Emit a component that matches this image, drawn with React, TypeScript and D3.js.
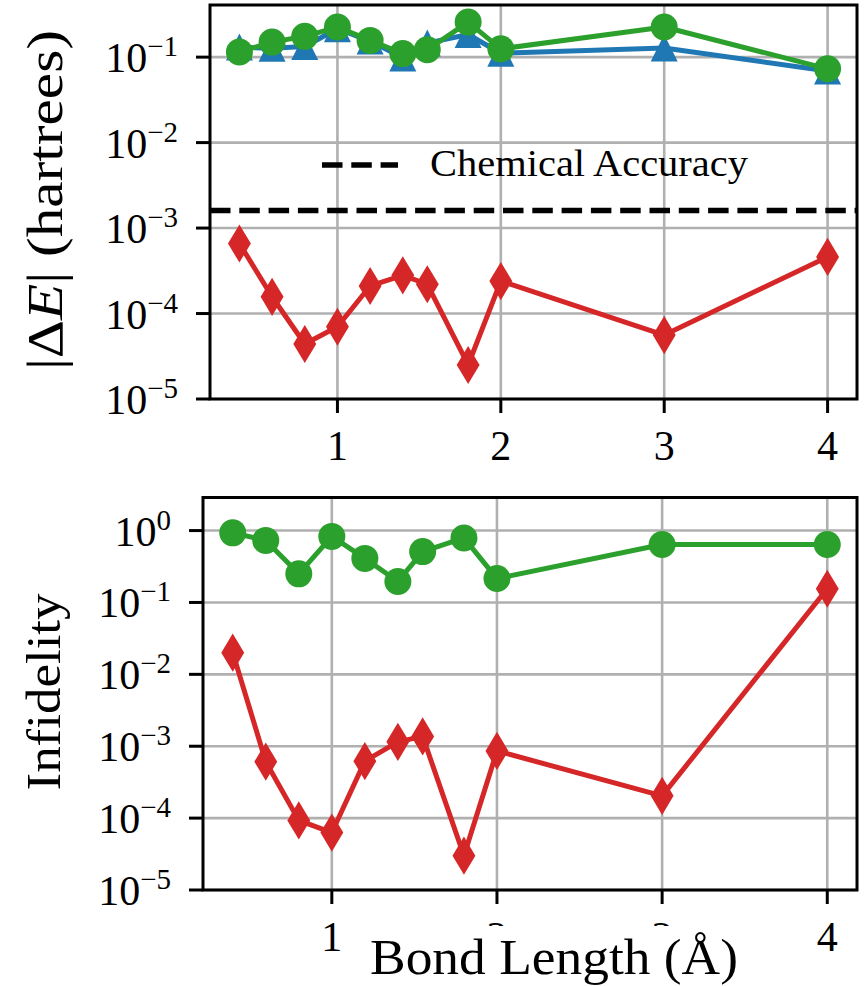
import React, { useRef, useEffect } from "react";
import * as d3 from "d3";

// bond lengths (angstrom) shared by both panels
const bondLengths = [0.4, 0.6, 0.8, 1.0, 1.2, 1.4, 1.55, 1.8, 2.0, 3.0, 4.0];

// |dE| in hartrees
const energyBlue = [0.131, 0.127, 0.133, 0.215, 0.154, 0.098, 0.146, 0.184, 0.111, 0.128, 0.069];
const energyGreen = [0.115, 0.15, 0.175, 0.225, 0.157, 0.11, 0.122, 0.257, 0.125, 0.225, 0.073];
const energyRed = [6.6e-4, 1.57e-4, 4.4e-5, 7.0e-5, 2.1e-4, 2.8e-4, 2.2e-4, 2.5e-5, 2.4e-4, 5.6e-5, 4.6e-4];
const chemicalAccuracy = 1.6e-3;

// infidelity
const infidelityGreen = [0.93, 0.73, 0.25, 0.83, 0.41, 0.196, 0.51, 0.79, 0.215, 0.64, 0.64];
const infidelityRed = [0.02, 6.1e-4, 9.3e-5, 6.3e-5, 6.2e-4, 1.15e-3, 1.37e-3, 3.0e-5, 8.6e-4, 2.04e-4, 0.155];

const xTicks = [1, 2, 3, 4];
const energyExponents = [-1, -2, -3, -4, -5];
const infidelityExponents = [0, -1, -2, -3, -4, -5];

const W = 866;
const H = 986;
const FONT = "'Liberation Serif', 'Times New Roman', serif";
const BLUE = "#1f77b4";
const GREEN = "#2ca02c";
const RED = "#d62728";
const MS = 27; // marker size in px
const LW = 5;

type Marker = "circle" | "triangle" | "thinDiamond";

function markerPath(kind: Marker, s: number): string {
  const h = s / 2;
  const p = d3.path();
  if (kind === "circle") {
    p.arc(0, 0, h, 0, 2 * Math.PI);
  } else if (kind === "triangle") {
    p.moveTo(0, -h);
    p.lineTo(-h, h);
    p.lineTo(h, h);
    p.closePath();
  } else {
    const a = s * Math.SQRT1_2;
    const w = a * 0.6;
    p.moveTo(0, -a);
    p.lineTo(w, 0);
    p.lineTo(0, a);
    p.lineTo(-w, 0);
    p.closePath();
  }
  return p.toString();
}

interface Series {
  values: number[];
  color: string;
  marker: Marker;
}

interface Panel {
  left: number;
  right: number;
  top: number;
  bottom: number;
  yMax: number;
  exponents: number[];
  series: Series[];
}

function drawPanel(svg: d3.Selection<SVGSVGElement, unknown, null, undefined>, panel: Panel) {
  const x = d3.scaleLinear().domain([0.22, 4.18]).range([panel.left, panel.right]);
  const y = d3.scaleLog().domain([1e-5, panel.yMax]).range([panel.bottom, panel.top]);
  const g = svg.append("g");

  // grid
  g.selectAll("line.gx")
    .data(xTicks)
    .enter()
    .append("line")
    .attr("x1", d => x(d))
    .attr("x2", d => x(d))
    .attr("y1", panel.top)
    .attr("y2", panel.bottom)
    .attr("stroke", "#b0b0b0")
    .attr("stroke-width", 2.6);
  g.selectAll("line.gy")
    .data(panel.exponents)
    .enter()
    .append("line")
    .attr("x1", panel.left)
    .attr("x2", panel.right)
    .attr("y1", d => y(Math.pow(10, d)))
    .attr("y2", d => y(Math.pow(10, d)))
    .attr("stroke", "#b0b0b0")
    .attr("stroke-width", 2.6);

  const line = d3
    .line<number>()
    .x((_, i) => x(bondLengths[i]))
    .y(d => y(d));

  for (const s of panel.series) {
    g.append("path")
      .attr("d", line(s.values))
      .attr("fill", "none")
      .attr("stroke", s.color)
      .attr("stroke-width", LW)
      .attr("stroke-linejoin", "round");
    g.selectAll(null)
      .data(s.values)
      .enter()
      .append("path")
      .attr("transform", (d, i) => `translate(${x(bondLengths[i])},${y(d)})`)
      .attr("d", markerPath(s.marker, MS))
      .attr("fill", s.color);
  }
  return { g, x, y };
}

function drawFrame(g: d3.Selection<SVGGElement, unknown, null, undefined>, panel: Panel, x: any, y: any) {
  // spines
  g.append("rect")
    .attr("x", panel.left)
    .attr("y", panel.top)
    .attr("width", panel.right - panel.left)
    .attr("height", panel.bottom - panel.top)
    .attr("fill", "none")
    .attr("stroke", "#000")
    .attr("stroke-width", 3);

  // x ticks
  g.selectAll(null)
    .data(xTicks)
    .enter()
    .append("line")
    .attr("x1", d => x(d))
    .attr("x2", d => x(d))
    .attr("y1", panel.bottom)
    .attr("y2", panel.bottom + 14)
    .attr("stroke", "#000")
    .attr("stroke-width", 3);
  g.selectAll(null)
    .data(xTicks)
    .enter()
    .append("text")
    .attr("x", d => x(d))
    .attr("y", panel.bottom + 61)
    .attr("text-anchor", "middle")
    .attr("font-family", FONT)
    .attr("font-size", 42)
    .text(d => String(d));

  // y ticks
  g.selectAll(null)
    .data(panel.exponents)
    .enter()
    .append("line")
    .attr("x1", panel.left - 14)
    .attr("x2", panel.left)
    .attr("y1", d => y(Math.pow(10, d)))
    .attr("y2", d => y(Math.pow(10, d)))
    .attr("stroke", "#000")
    .attr("stroke-width", 3);
  const labels = g
    .selectAll(null)
    .data(panel.exponents)
    .enter()
    .append("text")
    .attr("x", panel.left - 32)
    .attr("y", d => y(Math.pow(10, d)) + 15)
    .attr("text-anchor", "end")
    .attr("font-family", FONT)
    .attr("font-size", 42);
  labels.append("tspan").text("10");
  labels
    .append("tspan")
    .attr("dy", -16)
    .attr("font-size", 29)
    .text(d => (d < 0 ? "\u2212" + -d : String(d)));
}

export default function App() {
  const ref = useRef<SVGSVGElement>(null);
  useEffect(() => {
    const svg = d3.select(ref.current as SVGSVGElement);
    svg.selectAll("*").remove();
    svg.append("rect").attr("width", W).attr("height", H).attr("fill", "#fff");

    const topPanel: Panel = {
      left: 210,
      right: 857,
      top: 5,
      bottom: 399,
      yMax: Math.pow(10, -0.39),
      exponents: energyExponents,
      series: [
        { values: energyBlue, color: BLUE, marker: "triangle" },
        { values: energyGreen, color: GREEN, marker: "circle" },
        { values: energyRed, color: RED, marker: "thinDiamond" },
      ],
    };
    const bottomPanel: Panel = {
      left: 203,
      right: 857,
      top: 497.5,
      bottom: 890,
      yMax: Math.pow(10, 0.46),
      exponents: infidelityExponents,
      series: [
        { values: infidelityGreen, color: GREEN, marker: "circle" },
        { values: infidelityRed, color: RED, marker: "thinDiamond" },
      ],
    };

    const t = drawPanel(svg, topPanel);
    // chemical accuracy threshold
    t.g.append("line")
      .attr("x1", topPanel.left)
      .attr("x2", topPanel.right)
      .attr("y1", t.y(chemicalAccuracy))
      .attr("y2", t.y(chemicalAccuracy))
      .attr("stroke", "#000")
      .attr("stroke-width", 5.5)
      .attr("stroke-dasharray", "20.5,8.8");
    // legend (no frame)
    t.g.append("line")
      .attr("x1", 322)
      .attr("x2", 398)
      .attr("y1", 165)
      .attr("y2", 165)
      .attr("stroke", "#000")
      .attr("stroke-width", 5.5)
      .attr("stroke-dasharray", "20.5,8.8");
    t.g.append("text")
      .attr("x", 430)
      .attr("y", 176)
      .attr("font-family", FONT)
      .attr("font-size", 38)
      .attr("textLength", 318)
      .attr("lengthAdjust", "spacingAndGlyphs")
      .text("Chemical Accuracy");
    drawFrame(t.g, topPanel, t.x, t.y);

    const b = drawPanel(svg, bottomPanel);
    drawFrame(b.g, bottomPanel, b.x, b.y);

    // y labels
    const yl = svg
      .append("text")
      .attr("transform", "translate(62,200) rotate(-90)")
      .attr("text-anchor", "middle")
      .attr("font-family", FONT)
      .attr("font-size", 50)
      .attr("textLength", 340)
      .attr("lengthAdjust", "spacingAndGlyphs");
    yl.append("tspan").text("|\u0394");
    yl.append("tspan").attr("font-style", "italic").text("E");
    yl.append("tspan").text("| (hartrees)");

    svg.append("text")
      .attr("transform", "translate(60,692) rotate(-90)")
      .attr("text-anchor", "middle")
      .attr("font-family", FONT)
      .attr("font-size", 49)
      .attr("textLength", 197)
      .attr("lengthAdjust", "spacingAndGlyphs")
      .text("Infidelity");

    // x label sits on a white box that hides the middle tick labels
    svg.append("rect")
      .attr("x", 362)
      .attr("y", 926)
      .attr("width", 384)
      .attr("height", 60)
      .attr("fill", "#fff");
    svg.append("text")
      .attr("x", 554)
      .attr("y", 974)
      .attr("text-anchor", "middle")
      .attr("font-family", FONT)
      .attr("font-size", 50)
      .attr("textLength", 368)
      .attr("lengthAdjust", "spacingAndGlyphs")
      .text("Bond Length (\u00c5)");
  }, []);
  return <svg ref={ref} width={W} height={H} style={{ position: "absolute", left: 0, top: 0 }} />;
}
